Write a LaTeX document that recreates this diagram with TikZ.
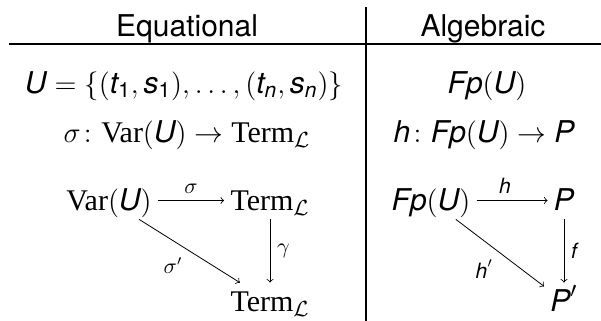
\documentclass[tikz,border=0pt]{standalone}
\usepackage{amsmath,amssymb}
\usepackage[no-math]{fontspec}
\setmainfont{TeX Gyre Heros}
\newfontfamily\timesfont{Liberation Serif}
\usepackage{tikz}

\newcommand{\mi}[1]{\text{\itshape #1}}
\newcommand{\Var}{\text{\timesfont Var}}
\newcommand{\Term}{\text{\timesfont Term}_{\mathcal{L}}}

\begin{document}
\begin{tikzpicture}[x=0.5pt, y=-0.5pt, every node/.style={font=\fontsize{15}{18}\selectfont}, obj/.style={inner sep=3pt, text height=11pt, text depth=1.5pt}]
	\useasboundingbox (0,0) rectangle (601,321);
	% table rules
	\draw[line width=0.6pt] (9,44) -- (601,44);
	\draw[line width=0.6pt] (366,7) -- (366,321);
	% headers
	\node[anchor=base] (eqhead) at (187,36) {Equational};
	\node[anchor=base] (alghead) at (483,36) {Algebraic};
	% first two rows
	\node[anchor=base] (eqset) at (184,93) {$\mi{U}=\{(\mi{t}_{\text{1}},\mi{s}_{\text{1}}),\dots,(\mi{t}_{\mi{n}},\mi{s}_{\mi{n}})\}$};
	\node[anchor=base] (algset) at (487,93) {$\mi{Fp}(\mi{U})$};
	\node[anchor=base] (eqmap) at (187,142) {$\sigma\colon\Var(\mi{U})\to\Term$};
	\node[anchor=base] (algmap) at (484,142) {$\mi{h}\colon\mi{Fp}(\mi{U})\to\mi{P}$};
	% equational triangle
	\node[obj, anchor=base] (var) at (109,210) {$\Var(\mi{U})$};
	\node[obj, anchor=base] (term) at (270,210) {$\Term$};
	\node[obj, anchor=base] (termb) at (270,311) {$\Term$};
	\draw[->] (var) -- node[above] {$\scriptstyle\sigma$} (term);
	\draw[->] (term) -- node[right] {$\scriptstyle\gamma$} (termb);
	\draw[->] (var) -- node[below left] {$\scriptstyle\sigma'$} (termb);
	% algebraic triangle
	\node[obj, anchor=base] (fp) at (431,210) {$\mi{Fp}(\mi{U})$};
	\node[obj, anchor=base] (p) at (564,210) {$\mi{P}$};
	\node[obj, anchor=base] (pp) at (564,311) {$\mi{P}'$};
	\draw[->] (fp) -- node[above, pos=0.4] {$\scriptstyle\mi{h}$} (p);
	\draw[->] (p) -- node[right] {$\scriptstyle\mi{f}$} (pp);
	\draw[->] (fp) -- node[below left] {$\scriptstyle\mi{h}'$} (pp);
\end{tikzpicture}
\end{document}
